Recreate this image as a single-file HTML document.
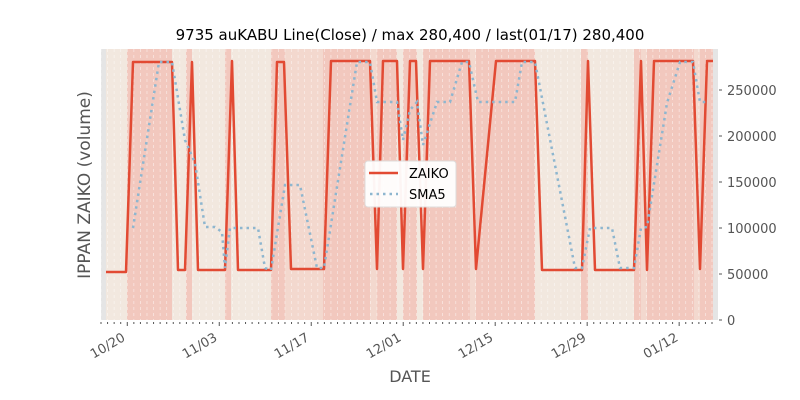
<!DOCTYPE html>
<html><head><meta charset="utf-8"><style>
html,body{margin:0;padding:0;background:#fff;width:800px;height:400px;overflow:hidden}
text{font-family:"DejaVu Sans","Liberation Sans",sans-serif}
</style></head><body>
<svg width="800" height="400" xmlns="http://www.w3.org/2000/svg">
<rect x="101" y="49" width="617" height="271" fill="#e5e5e5"/>
<g>
<rect x="106" y="49" width="21" height="271" fill="#f2e8df"/>
<rect x="127" y="49" width="45" height="271" fill="#f2c8be"/>
<rect x="172" y="49" width="14" height="271" fill="#f2e8df"/>
<rect x="186" y="49" width="6" height="271" fill="#f2c8be"/>
<rect x="192" y="49" width="33" height="271" fill="#f2e8df"/>
<rect x="225" y="49" width="6" height="271" fill="#f2c8be"/>
<rect x="231" y="49" width="40" height="271" fill="#f2e8df"/>
<rect x="271" y="49" width="14" height="271" fill="#f2c8be"/>
<rect x="285" y="49" width="38" height="271" fill="#f3d8ce"/>
<rect x="323" y="49" width="47" height="271" fill="#f2c8be"/>
<rect x="370" y="49" width="7" height="271" fill="#f3d8ce"/>
<rect x="377" y="49" width="20" height="271" fill="#f2c8be"/>
<rect x="397" y="49" width="6" height="271" fill="#f2e8df"/>
<rect x="403" y="49" width="14" height="271" fill="#f2c8be"/>
<rect x="417" y="49" width="6" height="271" fill="#f2e8df"/>
<rect x="423" y="49" width="47" height="271" fill="#f2c8be"/>
<rect x="470" y="49" width="6" height="271" fill="#f3d8ce"/>
<rect x="476" y="49" width="59" height="271" fill="#f2c8be"/>
<rect x="535" y="49" width="46" height="271" fill="#f2e8df"/>
<rect x="581" y="49" width="7" height="271" fill="#f2c8be"/>
<rect x="588" y="49" width="46" height="271" fill="#f2e8df"/>
<rect x="634" y="49" width="7" height="271" fill="#f2c8be"/>
<rect x="641" y="49" width="6" height="271" fill="#f3d8ce"/>
<rect x="647" y="49" width="47" height="271" fill="#f2c8be"/>
<rect x="694" y="49" width="6" height="271" fill="#f3d8ce"/>
<rect x="700" y="49" width="13" height="271" fill="#f2c8be"/>
</g>
<g id="grid" stroke="#fff" stroke-width="0.7" stroke-dasharray="3,3" opacity="0.6"></g>
<polyline fill="none" stroke="#e24a33" stroke-width="2.5" stroke-linejoin="round" points="106,272 126,272 133,62 172,62 178,270 185,270 192,62 198,270 222,270 225,270 232,61 238,270 271,270 277,62 284,62 291,269 324,269 331,61 370,61 377,269 383,61 397,61 403,269 410,61 416,61 423,269 430,61 469,61 476,269 496,61 535,61 542,270 582,270 588,61 595,270 634,270 641,61 647,270 654,61 693,61 700,269 707,61 713,61"/>
<polyline fill="none" stroke="#8eb6cf" stroke-width="2.5" stroke-dasharray="2.5,4" points="133,228 159,62 172,62 185,140 195,163 205,227 215,227 222,232 225,268 230,228 258,228 265,268 271,270 285,185 300,185 317,268 324,268 357,62 370,62 377,102 397,102 403,140 410,110 417,102 423,145 437,102 450,102 462,62 469,62 478,102 515,102 522,62 535,62 575,268 582,268 590,228 612,228 620,268 634,268 641,228 647,227 667,103 680,62 693,62 700,102 707,102"/>
<g id="ticks" stroke="#555" stroke-width="1"></g>
<g font-size="13" fill="#555">
<text x="727" y="325">0</text>
<text x="727" y="279">50000</text>
<text x="727" y="233">100000</text>
<text x="727" y="187">150000</text>
<text x="727" y="141">200000</text>
<text x="727" y="95">250000</text>
</g>
<g font-size="13" fill="#555" text-anchor="end">
<text transform="translate(126,340) rotate(-30)">10/20</text>
<text transform="translate(218,340) rotate(-30)">11/03</text>
<text transform="translate(310,340) rotate(-30)">11/17</text>
<text transform="translate(402,340) rotate(-30)">12/01</text>
<text transform="translate(494,340) rotate(-30)">12/15</text>
<text transform="translate(587,340) rotate(-30)">12/29</text>
<text transform="translate(679,340) rotate(-30)">01/12</text>
</g>
<text x="410" y="382" font-size="16" fill="#555" text-anchor="middle">DATE</text>
<text transform="translate(90,185) rotate(-90)" font-size="17" fill="#555" text-anchor="middle">IPPAN ZAIKO (volume)</text>
<text x="410" y="40" font-size="15" fill="#000" text-anchor="middle">9735 auKABU Line(Close) / max 280,400 / last(01/17) 280,400</text>
<rect x="365" y="161" width="91" height="46" rx="3" fill="#fff" stroke="#ddd" opacity="0.95"/>
<line x1="369" y1="173" x2="398" y2="173" stroke="#e24a33" stroke-width="2.5"/>
<line x1="370" y1="194" x2="398" y2="194" stroke="#8eb6cf" stroke-width="2.5" stroke-dasharray="2.5,4"/>
<text x="409" y="178" font-size="13">ZAIKO</text>
<text x="409" y="199" font-size="13">SMA5</text>
</svg>
<script>
var g=document.getElementById('grid'),t=document.getElementById('ticks'),s='',u='';
for(var k=0;k<95;k++){var x=101+6.57*k;if(x>718)break;s+='<line x1="'+x+'" y1="49" x2="'+x+'" y2="320"/>';u+='<line x1="'+x+'" y1="322" x2="'+x+'" y2="'+(Math.abs((x-127)%92)<1||Math.abs((x-127)%92-92)<1?326:324)+'"/>';}
[320,274,228,182,136,90].forEach(function(y){u+='<line x1="719" y1="'+y+'" x2="722" y2="'+y+'"/>';});
g.innerHTML=s;t.innerHTML=u;
</script>
</body></html>
